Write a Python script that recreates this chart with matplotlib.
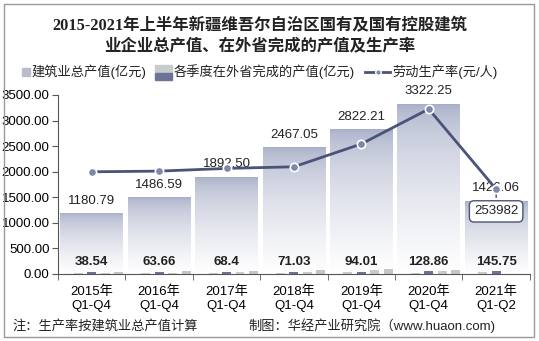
import matplotlib
matplotlib.use('Agg')
import matplotlib.pyplot as plt
import numpy as np
from matplotlib.patches import Rectangle
from matplotlib.lines import Line2D

years = ["2015年\nQ1-Q4", "2016年\nQ1-Q4", "2017年\nQ1-Q4", "2018年\nQ1-Q4",
         "2019年\nQ1-Q4", "2020年\nQ1-Q4", "2021年\nQ1-Q2"]
total = [1180.79, 1486.59, 1892.50, 2467.05, 2822.21, 3322.25, 1426.06]
outside = [38.54, 63.66, 68.4, 71.03, 94.01, 128.86, 145.75]
# quarterly outside-province bars
q1 = [17, 17, 23, 27, 33, 23, 46]
q2 = [30, 37, 36, 36, 43, 62, 66]
q3 = [23, 27, 33, 39, 69, 52]
q4 = [37, 53, 66, 72, 88, 72]
productivity = [306000, 308000, 316100, 321000, 389300, 493900, 253982]

CN = ['Liberation Sans', 'Noto Sans CJK SC']
plt.rcParams['font.family'] = CN

fig = plt.figure(figsize=(5.39, 3.41), dpi=100)
ax = fig.add_axes([0.1076, 0.1965, 0.8754, 0.525])

x = np.arange(len(years))
w = 0.93
top_col = np.array([166, 173, 198]) / 255
t = np.linspace(0, 1, 200) ** 0.55  # 0 at top, 1 at bottom
img = top_col[None, None, :] * (1 - t[:, None, None]) + t[:, None, None]
bars = ax.bar(x, total, width=w, color='none', edgecolor='none', zorder=1)
for b in bars:
    x0, h = b.get_x(), b.get_height()
    ax.imshow(img, extent=[x0, x0 + w, 0, h], aspect='auto', zorder=1,
              origin='upper')
    ax.annotate(f"{h:.2f}", (x0 + w / 2, h), xytext=(0, 5), textcoords='offset points',
                ha='center', va='bottom', fontsize=9.5, color='#222222')

sw = 0.133
ax.bar(x - 0.2, q1, width=sw, color='#c9cccc', zorder=2)
ax.bar(x, q2, width=sw, color='#6b7397', zorder=2)
ax.bar(x[:len(q3)] + 0.2, q3, width=sw, color='#c9cccc', zorder=2)
ax.bar(x[:len(q4)] + 0.4, q4, width=sw, color='#c2c6c5', zorder=2)
for xi, v in zip(x, outside):
    ax.text(xi, 230, f"{v:g}", ha='center', va='center', fontsize=9.5,
            fontweight='bold', color='#222222', zorder=4)

ax.set_xlim(-0.5, len(years) - 0.5)
ax.set_ylim(0, 3500)
ax.set_yticks(np.arange(0, 3501, 500))
ax.set_yticklabels([f"{v:.2f}" for v in np.arange(0, 3501, 500)], fontsize=9.5)
ax.set_xticks(x)
ax.set_xticklabels(years, fontsize=9.5, linespacing=1.3)
ax.set_xticks(np.arange(-0.5, len(years)), minor=True)
ax.tick_params(axis='x', which='major', length=0, pad=8)
ax.tick_params(axis='x', which='minor', length=4, color='#555555')
ax.tick_params(axis='y', length=4, color='#555555', pad=2)
for s in ['top', 'right']:
    ax.spines[s].set_visible(False)
for s in ['left', 'bottom']:
    ax.spines[s].set_color('#555555')

ax2 = ax.twinx()
ax2.set_ylim(0, 536000)
ax2.axis('off')
ax2.plot(x, productivity, color='#4b5379', lw=2, marker='o', ms=6,
         mfc='#7f88aa', mec='white', mew=1.2, zorder=5)
ax2.annotate(f"{productivity[-1]}", (x[-1], productivity[-1]), xytext=(0, -16),
             textcoords='offset points', ha='center', va='center', fontsize=9.5,
             color='#222222',
             bbox=dict(boxstyle='round,pad=0.35', fc='white', ec='#4b5379', lw=1),
             arrowprops=dict(arrowstyle='-', color='#222222', lw=0.8))

# title
fig.text(0.482, 0.893, "2015-2021年上半年新疆维吾尔自治区国有及国有控股建筑\n业企业总产值、在外省完成的产值及生产率",
         ha='center', va='center', fontsize=11.8, fontweight='bold',
         family=['Liberation Serif', 'Noto Sans CJK SC'], color='#222222',
         linespacing=1.35)

# legend (hand made)
ly = 1 - 72 / 341
fig.patches.append(Rectangle((22 / 539, ly - 0.013), 8 / 539, 0.026, color='#b8bccd',
                             transform=fig.transFigure))
fig.text(31 / 539, ly, "建筑业总产值(亿元)", va='center', fontsize=9.5, color='#222222')
fig.patches.append(Rectangle((155 / 539, ly), 17 / 539, 0.02, color='#c9cccc',
                             transform=fig.transFigure))
fig.patches.append(Rectangle((155 / 539, ly - 0.022), 17 / 539, 0.02, color='#6b7397',
                             transform=fig.transFigure))
fig.text(174 / 539, ly, "各季度在外省完成的产值(亿元)", va='center', fontsize=9.5,
         color='#222222')
fig.lines.append(Line2D([365 / 539, 390 / 539], [ly, ly], color='#4b5379', lw=2,
                        transform=fig.transFigure))
fig.lines.append(Line2D([377.5 / 539], [ly], marker='o', ms=4, mfc='#7f88aa', mec='white',
                        transform=fig.transFigure))
fig.text(392 / 539, ly, "劳动生产率(元/人)", va='center', fontsize=9.5, color='#222222')

# footnotes
fig.text(12 / 539, 1 - 326 / 341, "注：生产率按建筑业总产值计算", va='center',
         fontsize=9.5, color='#222222')
fig.text(248 / 539, 1 - 326 / 341, "制图：华经产业研究院（www.huaon.com)", va='center',
         fontsize=9.5, color='#222222')

fig.patches.append(Rectangle((4 / 539, 4 / 341), 530 / 539, 333 / 341, fill=False,
                             ec='#999999', lw=1, transform=fig.transFigure))

fig.savefig('out.png', dpi=100)
